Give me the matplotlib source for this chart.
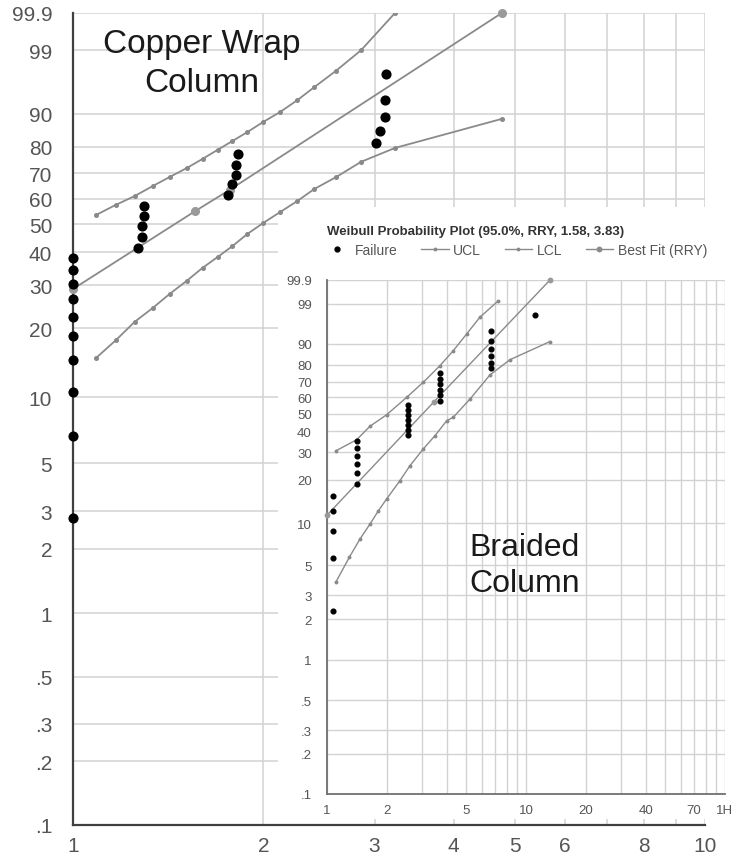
import numpy as np
import matplotlib
matplotlib.use("Agg")
from matplotlib import pyplot as plt
from matplotlib.patches import Rectangle
from matplotlib.lines import Line2D
from matplotlib.ticker import NullFormatter, NullLocator

plt.rcParams['font.family'] = ['Liberation Sans', 'DejaVu Sans']

# ---- data (percent failed vs. time) ----
# Copper Wrap column (big chart)
cu_fail_x = [1.0, 1.0, 1.0, 1.0, 1.0, 1.0, 1.0, 1.0, 1.0, 1.0,
             1.266, 1.285, 1.285, 1.294, 1.294,
             1.762, 1.782, 1.814, 1.814, 1.821,
             3.016, 3.06, 3.117, 3.117, 3.13]
cu_fail_p = [2.8, 6.7, 10.6, 14.6, 18.5, 22.4, 26.4, 30.3, 34.3, 38.2,
             41.5, 45.3, 49.2, 53.0, 57.0,
             61.4, 65.8, 69.4, 73.3, 77.4,
             81.3, 85.2, 89.2, 93.1, 97.1]
cu_ucl_x = [1.087, 1.169, 1.252, 1.337, 1.422, 1.513, 1.603, 1.693, 1.788,
            1.888, 2.001, 2.128, 2.264, 2.408, 2.609, 2.856, 3.232]
cu_ucl_p = [53.5, 57.5, 61.0, 65.0, 68.6, 72.1, 75.6, 78.9, 82.0,
            84.9, 87.9, 90.5, 93.1, 95.4, 97.5, 99.0, 99.9]
cu_lcl_x = [1.087, 1.169, 1.252, 1.337, 1.422, 1.513, 1.603, 1.693, 1.788,
            1.888, 2.001, 2.128, 2.264, 2.408, 2.609, 2.856, 3.232, 4.766]
cu_lcl_p = [14.9, 17.8, 21.3, 24.3, 27.7, 31.2, 35.0, 38.4, 42.1,
            46.4, 50.5, 54.7, 59.0, 63.8, 68.6, 74.5, 79.6, 88.7]
cu_fit_x = [1.0, 1.56, 1.77, 4.77]
cu_fit_p = [29.0, 55.0, 63.5, 99.9]

# Braided column (inset)
br_fail_x = [1.068, 1.068, 1.068, 1.068, 1.076,
             1.41, 1.41, 1.41, 1.41, 1.41, 1.41,
             2.56, 2.56, 2.56, 2.56, 2.56, 2.56, 2.56,
             3.70, 3.70, 3.70, 3.70, 3.70, 3.70,
             6.67, 6.67, 6.67, 6.67, 6.67, 6.67,
             11.14]
br_fail_p = [2.3, 5.6, 8.8, 12.1, 15.5,
             18.7, 22.0, 25.3, 28.6, 31.9, 35.2,
             38.1, 40.7, 43.5, 46.3, 49.2, 52.2, 55.3,
             57.8, 61.3, 64.8, 68.4, 71.8, 75.2,
             77.9, 81.2, 84.5, 87.8, 91.1, 94.4,
             97.7]
br_ucl_x = [1.106, 1.41, 1.645, 1.995, 2.515, 3.047, 3.697, 4.311, 5.035, 5.873, 7.258]
br_ucl_p = [30.6, 35.8, 42.8, 49.4, 60.1, 69.6, 79.5, 87.1, 93.5, 97.4, 99.2]
br_lcl_x = [1.106, 1.294, 1.465, 1.645, 1.81, 1.995, 2.327, 2.613, 3.047, 3.488,
            3.996, 4.311, 5.232, 6.594, 8.31, 13.2]
br_lcl_p = [3.74, 5.69, 7.72, 9.87, 12.2, 14.8, 19.7, 24.7, 31.5, 37.8,
            45.9, 47.9, 59.0, 74.1, 82.7, 90.9]
br_fit_x = [1.0, 3.45, 13.2]
br_fit_p = [11.4, 57.3, 99.9]

prob_ticks = [0.1, 0.2, 0.3, 0.5, 1, 2, 3, 5, 10, 20, 30, 40, 50, 60, 70, 80, 90, 99, 99.9]
prob_labels = ['.1', '.2', '.3', '.5', '1', '2', '3', '5', '10', '20', '30', '40',
               '50', '60', '70', '80', '90', '99', '99.9']
cu_xticks = [1, 2, 3, 4, 5, 6, 8, 10]
br_xticks = [1, 2, 5, 10, 20, 40, 70, 100]
br_xlabels = ['1', '2', '5', '10', '20', '40', '70', '1H']

LINE = '#8a8a8a'
GRID = '#d2d2d2'


# weibull probability paper: ln(-ln(1-F))
def wb_fwd(p):
    p = np.clip(np.asarray(p, dtype=float), 1e-6, 100 - 1e-6)
    return np.log(-np.log(1 - p / 100.0))


def wb_inv(w):
    return 100.0 * (1 - np.exp(-np.exp(np.asarray(w, dtype=float))))


W, H = 734, 862
fig = plt.figure(figsize=(W / 100, H / 100), dpi=100)
fig.patch.set_facecolor('white')

# ---- main chart ----
ax = fig.add_axes([73 / W, 36 / H, 632 / W, 812 / H])
ax.set_xscale('log')
ax.set_yscale('function', functions=(wb_fwd, wb_inv))
ax.set_xlim(1, 10)
ax.set_ylim(0.1, 99.9)
ax.set_xticks(cu_xticks)
ax.set_xticklabels([str(v) for v in cu_xticks])
ax.set_xticks([7, 9], minor=True)
ax.xaxis.set_minor_formatter(NullFormatter())
ax.set_yticks(prob_ticks)
ax.set_yticklabels(prob_labels)
ax.yaxis.set_minor_locator(NullLocator())
ax.set_axisbelow(True)
ax.grid(True, which='both', color=GRID, lw=1.1)
ax.tick_params(which='both', length=0, labelsize=15, labelcolor='#555555')
ax.tick_params(axis='y', pad=15)
ax.tick_params(axis='x', pad=8)
for s in ['top', 'right']:
    ax.spines[s].set_visible(False)
for s in ['left', 'bottom']:
    ax.spines[s].set_color('#404040')
    ax.spines[s].set_linewidth(1.6)

# white panel behind the inset (hides the big chart's grid)
ax.add_patch(Rectangle((278 / W, (H - 820) / H), (W - 278) / W, (820 - 208) / H,
                       transform=fig.transFigure, facecolor='white', edgecolor='none',
                       zorder=1, clip_on=False))

ax.plot(cu_ucl_x, cu_ucl_p, color=LINE, lw=1.3, marker='o', ms=2.6, zorder=2)
ax.plot(cu_lcl_x, cu_lcl_p, color=LINE, lw=1.3, marker='o', ms=2.6, zorder=2)
ax.plot(cu_fit_x, cu_fit_p, color=LINE, lw=1.3, marker='o', ms=5.5,
        markerfacecolor='#9a9a9a', markeredgecolor='#9a9a9a', zorder=3, clip_on=False)
ax.plot(cu_fail_x, cu_fail_p, ls='none', marker='o', ms=6.3, color='black',
        zorder=4, clip_on=False)

fig.text(202 / W, 1 - 64 / H, 'Copper Wrap\nColumn', ha='center', va='center',
         fontsize=24, color='#1a1a1a', linespacing=1.35)

# ---- inset chart ----
ax2 = fig.add_axes([327 / W, (H - 795) / H, 398 / W, 514 / H])
ax2.set_facecolor('white')
ax2.set_xscale('log')
ax2.set_yscale('function', functions=(wb_fwd, wb_inv))
ax2.set_xlim(1, 100)
ax2.set_ylim(0.1, 99.9)
ax2.set_xticks(br_xticks)
ax2.set_xticklabels(br_xlabels)
ax2.set_xticks([3, 4, 6, 7, 8, 9, 30, 50, 60, 80, 90], minor=True)
ax2.xaxis.set_minor_formatter(NullFormatter())
ax2.set_yticks(prob_ticks)
ax2.set_yticklabels(prob_labels)
ax2.yaxis.set_minor_locator(NullLocator())
ax2.set_axisbelow(True)
ax2.grid(True, which='both', color=GRID, lw=1.0)
ax2.tick_params(which='both', length=0, labelsize=9.5, labelcolor='#555555')
ax2.tick_params(axis='y', pad=11)
ax2.tick_params(axis='x', pad=7)
for s in ['top', 'right']:
    ax2.spines[s].set_visible(False)
for s in ['left', 'bottom']:
    ax2.spines[s].set_color('#707070')
    ax2.spines[s].set_linewidth(1.3)

ax2.plot(br_ucl_x, br_ucl_p, color=LINE, lw=1.0, marker='o', ms=1.8, zorder=2)
ax2.plot(br_lcl_x, br_lcl_p, color=LINE, lw=1.0, marker='o', ms=1.8, zorder=2)
ax2.plot(br_fit_x, br_fit_p, color=LINE, lw=1.0, marker='o', ms=3.2,
         markerfacecolor='#9a9a9a', markeredgecolor='#9a9a9a', zorder=3, clip_on=False)
ax2.plot(br_fail_x, br_fail_p, ls='none', marker='o', ms=3.4, color='black',
         zorder=4, clip_on=False)

fig.text(525 / W, 1 - 566 / H, 'Braided\nColumn', ha='center', va='center',
         fontsize=23, color='#1a1a1a', linespacing=1.3)

fig.text(327 / W, 1 - 232 / H, 'Weibull Probability Plot (95.0%, RRY, 1.58, 3.83)',
         ha='left', va='center', fontsize=9.5, fontweight='bold', color='#333333')

handles = [
    Line2D([], [], ls='none', marker='o', color='black', ms=3.5),
    Line2D([], [], color=LINE, lw=1.0, marker='o', ms=1.8),
    Line2D([], [], color=LINE, lw=1.0, marker='o', ms=1.8),
    Line2D([], [], color=LINE, lw=1.0, marker='o', ms=3.2),
]
leg = ax2.legend(handles, ['Failure', 'UCL', 'LCL', 'Best Fit (RRY)'], ncol=4,
                 loc='center', bbox_to_anchor=(0.472, 1 + 30 / 514), frameon=False,
                 fontsize=10, handlelength=2.0, handletextpad=0.3, columnspacing=1.7,
                 borderpad=0, borderaxespad=0)
for t in leg.get_texts():
    t.set_color('#555555')

fig.savefig('out.png', dpi=100)
